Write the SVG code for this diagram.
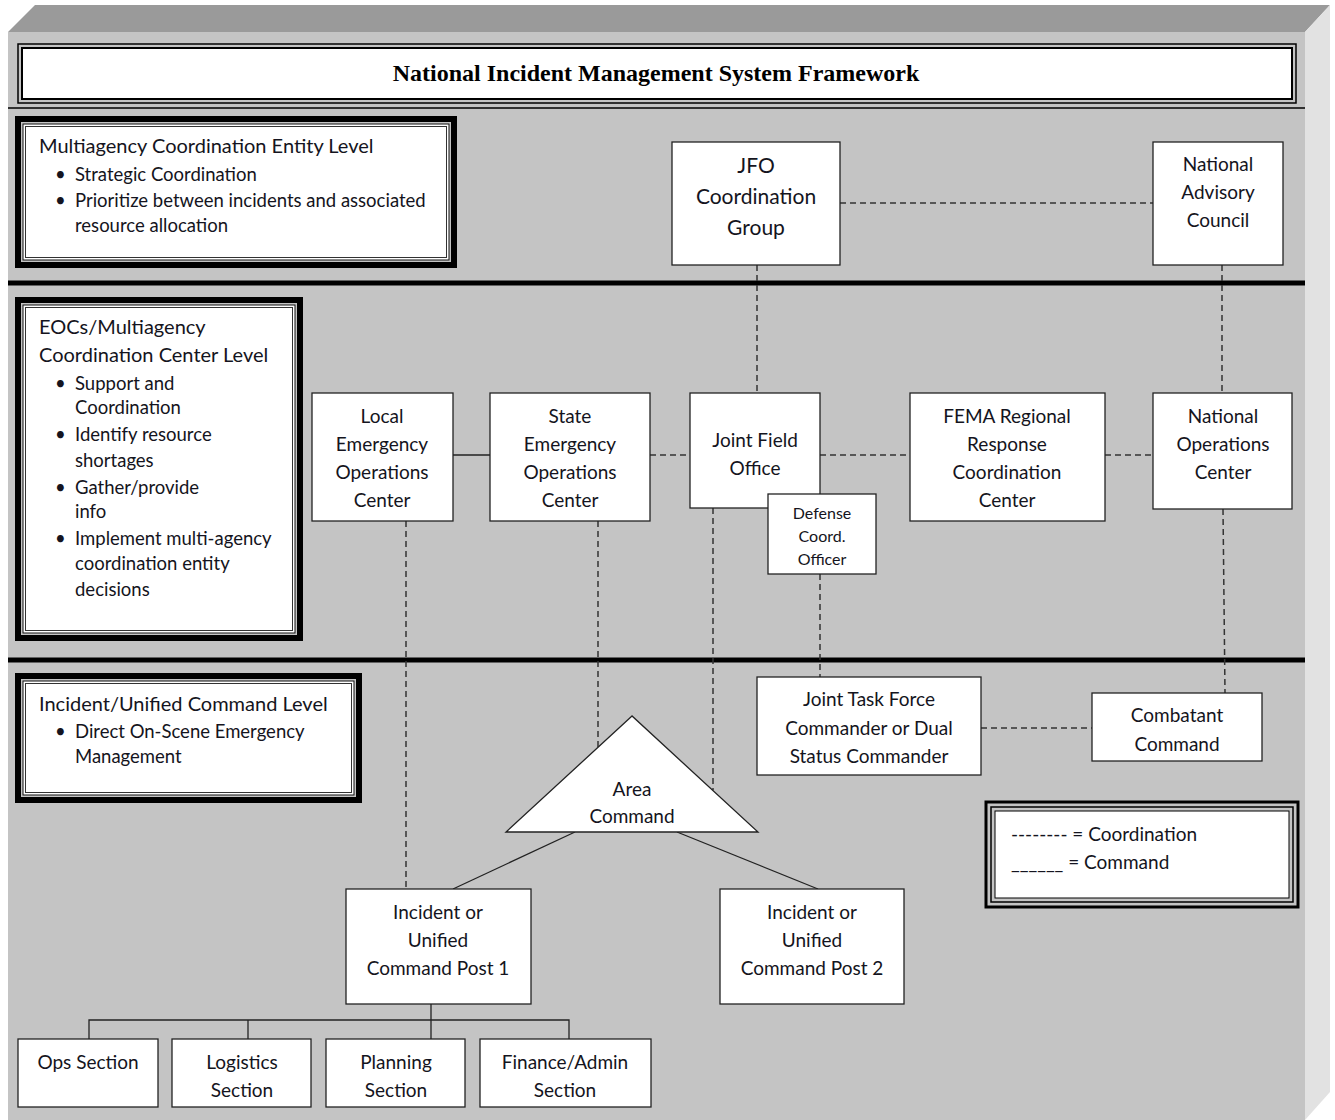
<svg xmlns="http://www.w3.org/2000/svg" width="1335" height="1120" viewBox="0 0 1335 1120">
<defs>
<style>
.t{font-family:Lato,"Liberation Sans",sans-serif;fill:#141420;}
.n{font-size:19px;text-anchor:middle;}
.l{font-size:20px;}
.b{font-size:18.5px;}
.g{font-size:19px;}
.node{fill:#fff;stroke:#222;stroke-width:1.3;}
.dash{fill:none;stroke:#333;stroke-width:1.5;stroke-dasharray:6 4;}
.solid{fill:none;stroke:#222;stroke-width:1.3;}
.heavy{fill:none;stroke:#000;stroke-width:6;}
.inner{fill:#fff;stroke:#111;stroke-width:1;}
.inner2{fill:none;stroke:#333;stroke-width:1;}
</style>
</defs>
<rect x="0" y="0" width="1335" height="1120" fill="#fff"/>
<!-- 3D frame -->
<polygon points="8,32 35,5 1330,5 1305,32" fill="#9a9a9a"/>
<polygon points="1305,32 1330,5 1330,1092 1305,1120" fill="#e2e2e2"/>
<rect x="8" y="32" width="1297" height="1088" fill="#c4c4c4"/>

<!-- Title -->
<g id="title">
<rect x="18" y="44" width="1278" height="59" fill="none" stroke="#000" stroke-width="1.5"/>
<rect x="22" y="48" width="1270" height="51" fill="#fff" stroke="#000" stroke-width="2"/>
<text x="656" y="81" text-anchor="middle" style="font-family:'Liberation Serif',serif;font-weight:bold;font-size:24px;fill:#000">National Incident Management System Framework</text>
</g>
<line x1="8" y1="108" x2="1305" y2="108" stroke="#000" stroke-width="1.3"/>
<line x1="8" y1="283" x2="1305" y2="283" stroke="#000" stroke-width="5"/>
<line x1="8" y1="660" x2="1305" y2="660" stroke="#000" stroke-width="5"/>

<!-- Level boxes -->
<g id="level-mace">
<rect class="heavy" x="18" y="119" width="436" height="146"/>
<rect class="inner" x="23" y="124" width="426" height="136"/>
<rect class="inner2" x="25.5" y="126.5" width="421" height="131"/>
<text class="t l" x="39" y="153">Multiagency Coordination Entity Level</text>
<text class="t b" x="55" y="181">•</text><text class="t b" x="75" y="181">Strategic Coordination</text>
<text class="t b" x="55" y="207">•</text><text class="t b" x="75" y="207">Prioritize between incidents and associated</text>
<text class="t b" x="75" y="232">resource allocation</text>
</g>
<g id="level-eoc">
<rect class="heavy" x="18" y="300" width="282" height="338"/>
<rect class="inner" x="23" y="305" width="272" height="328"/>
<rect class="inner2" x="25.5" y="307.5" width="267" height="323"/>
<text class="t l" x="39" y="334">EOCs/Multiagency</text>
<text class="t l" x="39" y="362">Coordination Center Level</text>
<text class="t b" x="55" y="390">•</text><text class="t b" x="75" y="390">Support and</text>
<text class="t b" x="75" y="414">Coordination</text>
<text class="t b" x="55" y="441">•</text><text class="t b" x="75" y="441">Identify resource</text>
<text class="t b" x="75" y="467">shortages</text>
<text class="t b" x="55" y="494">•</text><text class="t b" x="75" y="494">Gather/provide</text>
<text class="t b" x="75" y="518">info</text>
<text class="t b" x="55" y="545">•</text><text class="t b" x="75" y="545">Implement multi-agency</text>
<text class="t b" x="75" y="570">coordination entity</text>
<text class="t b" x="75" y="596">decisions</text>
</g>
<g id="level-icp">
<rect class="heavy" x="18" y="676" width="341" height="124"/>
<rect class="inner" x="23" y="681" width="331" height="114"/>
<rect class="inner2" x="25.5" y="683.5" width="326" height="109"/>
<text class="t l" x="39" y="711">Incident/Unified Command Level</text>
<text class="t b" x="55" y="738">•</text><text class="t b" x="75" y="738">Direct On-Scene Emergency</text>
<text class="t b" x="75" y="763">Management</text>
</g>

<!-- Connectors -->
<g id="connectors">
<line class="dash" x1="840" y1="203" x2="1153" y2="203"/>
<line class="dash" x1="757" y1="265" x2="757" y2="393"/>
<line class="dash" x1="1222" y1="265" x2="1222" y2="393"/>
<line class="solid" x1="453" y1="455" x2="490" y2="455"/>
<line class="dash" x1="650" y1="455" x2="690" y2="455"/>
<line class="dash" x1="820" y1="455" x2="910" y2="455"/>
<line class="dash" x1="1105" y1="455" x2="1153" y2="455"/>
<line class="dash" x1="1223" y1="509" x2="1225" y2="693"/>
<line class="dash" x1="406" y1="521" x2="406" y2="889"/>
<line class="dash" x1="598" y1="521" x2="598" y2="747"/>
<line class="dash" x1="713" y1="508" x2="713" y2="790"/>
<line class="dash" x1="820" y1="574" x2="820" y2="677"/>
<line class="dash" x1="981" y1="728" x2="1092" y2="728"/>
<line class="solid" x1="575" y1="832" x2="453" y2="889"/>
<line class="solid" x1="677" y1="832" x2="818" y2="889"/>
<polyline class="solid" points="431,1004 431,1020"/>
<polyline class="solid" points="89,1039 89,1020 569,1020 569,1039"/>
<line class="solid" x1="248" y1="1020" x2="248" y2="1039"/>
<line class="solid" x1="431" y1="1020" x2="431" y2="1039"/>
</g>

<!-- Nodes -->
<g id="jfo-coord">
<rect class="node" x="672" y="142" width="168" height="123"/>
<text class="t n" x="756" y="173" style="font-size:21px">JFO</text>
<text class="t n" x="756" y="204" style="font-size:21px">Coordination</text>
<text class="t n" x="756" y="235" style="font-size:21px">Group</text>
</g>
<g id="nac">
<rect class="node" x="1153" y="142" width="130" height="123"/>
<text class="t n" x="1218" y="171">National</text>
<text class="t n" x="1218" y="199">Advisory</text>
<text class="t n" x="1218" y="227">Council</text>
</g>
<g id="local-eoc">
<rect class="node" x="312" y="393" width="141" height="128"/>
<text class="t n" x="382" y="423">Local</text>
<text class="t n" x="382" y="451">Emergency</text>
<text class="t n" x="382" y="479">Operations</text>
<text class="t n" x="382" y="507">Center</text>
</g>
<g id="state-eoc">
<rect class="node" x="490" y="393" width="160" height="128"/>
<text class="t n" x="570" y="423">State</text>
<text class="t n" x="570" y="451">Emergency</text>
<text class="t n" x="570" y="479">Operations</text>
<text class="t n" x="570" y="507">Center</text>
</g>
<g id="jfo">
<rect class="node" x="690" y="393" width="130" height="115"/>
<text class="t n" x="755" y="447">Joint Field</text>
<text class="t n" x="755" y="475">Office</text>
</g>
<g id="dco">
<rect class="node" x="768" y="494" width="108" height="80"/>
<text class="t n" x="822" y="519" style="font-size:16px">Defense</text>
<text class="t n" x="822" y="542" style="font-size:16px">Coord.</text>
<text class="t n" x="822" y="565" style="font-size:16px">Officer</text>
</g>
<g id="fema">
<rect class="node" x="910" y="393" width="195" height="128"/>
<text class="t n" x="1007" y="423">FEMA Regional</text>
<text class="t n" x="1007" y="451">Response</text>
<text class="t n" x="1007" y="479">Coordination</text>
<text class="t n" x="1007" y="507">Center</text>
</g>
<g id="noc">
<rect class="node" x="1153" y="393" width="139" height="116"/>
<text class="t n" x="1223" y="423">National</text>
<text class="t n" x="1223" y="451">Operations</text>
<text class="t n" x="1223" y="479">Center</text>
</g>
<g id="jtf">
<rect class="node" x="757" y="677" width="224" height="98"/>
<text class="t n" x="869" y="706">Joint Task Force</text>
<text class="t n" x="869" y="735">Commander or Dual</text>
<text class="t n" x="869" y="763">Status Commander</text>
</g>
<g id="combatant">
<rect class="node" x="1092" y="693" width="170" height="68"/>
<text class="t n" x="1177" y="722">Combatant</text>
<text class="t n" x="1177" y="751">Command</text>
</g>
<g id="area-command">
<polygon class="node" points="632,716 506,832 758,832"/>
<text class="t n" x="632" y="796">Area</text>
<text class="t n" x="632" y="823">Command</text>
</g>
<g id="icp1">
<rect class="node" x="346" y="889" width="185" height="115"/>
<text class="t n" x="438" y="919">Incident or</text>
<text class="t n" x="438" y="947">Unified</text>
<text class="t n" x="438" y="975">Command Post 1</text>
</g>
<g id="icp2">
<rect class="node" x="720" y="889" width="184" height="115"/>
<text class="t n" x="812" y="919">Incident or</text>
<text class="t n" x="812" y="947">Unified</text>
<text class="t n" x="812" y="975">Command Post 2</text>
</g>
<g id="ops">
<rect class="node" x="18" y="1039" width="140" height="68"/>
<text class="t n" x="88" y="1069">Ops Section</text>
</g>
<g id="logistics">
<rect class="node" x="172" y="1039" width="139" height="68"/>
<text class="t n" x="242" y="1069">Logistics</text>
<text class="t n" x="242" y="1097">Section</text>
</g>
<g id="planning">
<rect class="node" x="326" y="1039" width="139" height="68"/>
<text class="t n" x="396" y="1069">Planning</text>
<text class="t n" x="396" y="1097">Section</text>
</g>
<g id="finance">
<rect class="node" x="480" y="1039" width="171" height="68"/>
<text class="t n" x="565" y="1069">Finance/Admin</text>
<text class="t n" x="565" y="1097">Section</text>
</g>

<!-- Legend -->
<g id="legend">
<rect x="986" y="802" width="312" height="105" fill="none" stroke="#000" stroke-width="3"/>
<rect x="991" y="807" width="302" height="95" fill="none" stroke="#000" stroke-width="1.5"/>
<rect x="995" y="811" width="294" height="87" fill="#fff" stroke="#000" stroke-width="1"/>
<text class="t g" x="1011" y="841">-------- = Coordination</text>
<text class="t g" x="1011" y="869">______ = Command</text>
</g>
</svg>
